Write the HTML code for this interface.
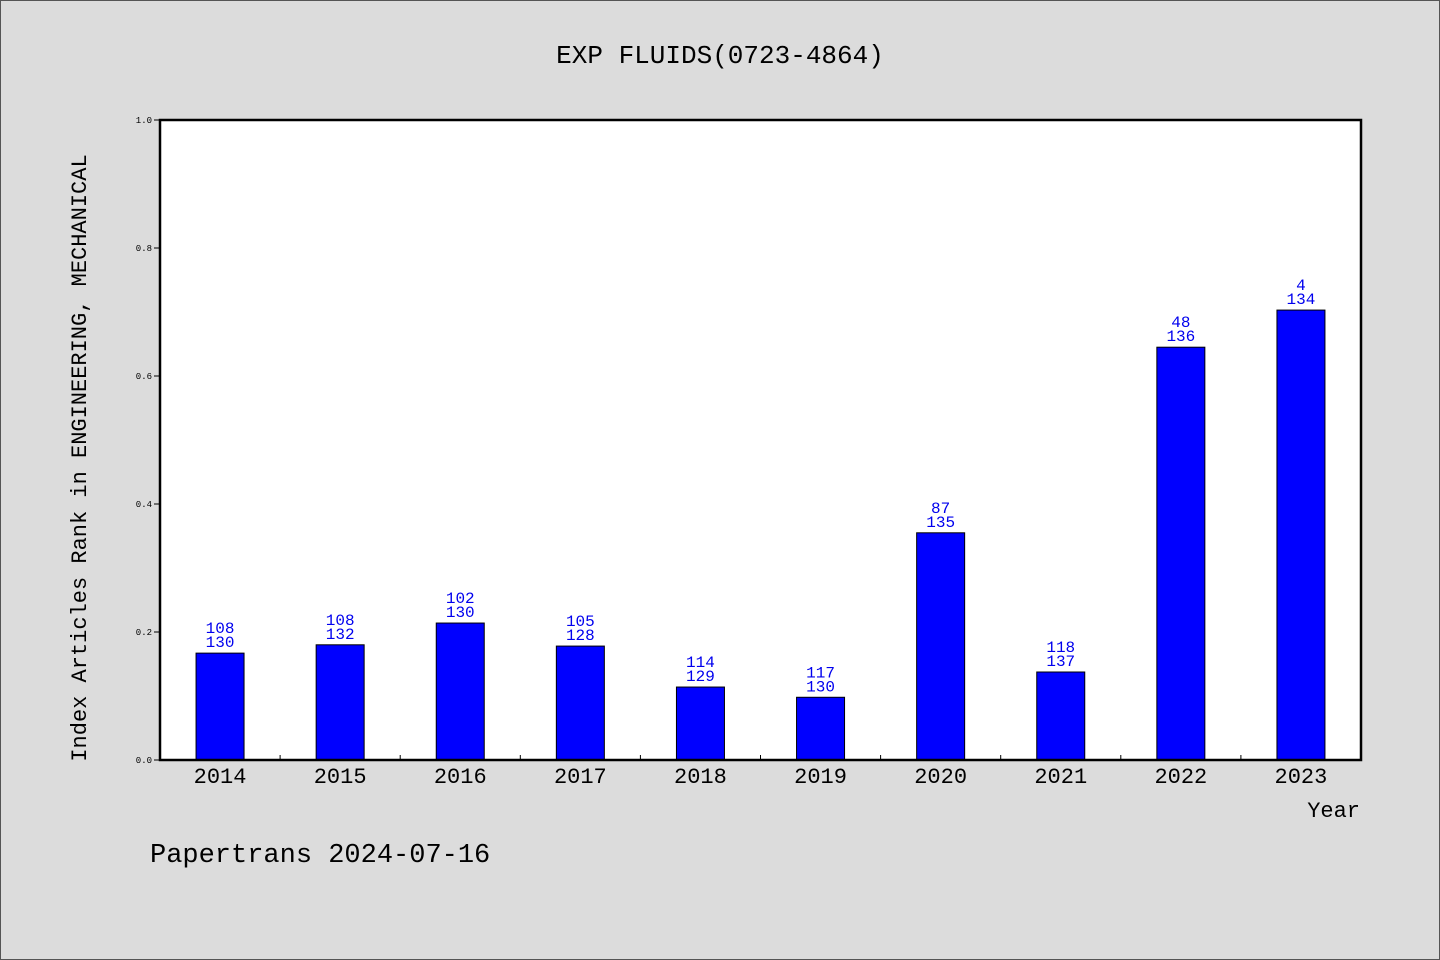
<!DOCTYPE html>
<html><head><meta charset="utf-8"><style>
body{margin:0;background:#dcdcdc}
svg{display:block;font-family:"Liberation Mono","Noto Sans CJK SC",monospace}
</style></head><body>
<svg id="chart" width="1440" height="960">
<rect x="0.5" y="0.5" width="1439" height="959" fill="#dcdcdc" stroke="#555"/>
<text x="720" y="63" text-anchor="middle" font-size="26">EXP FLUIDS(0723-4864)</text>
<rect x="160" y="120" width="1201" height="640" fill="#fff"/>
<g id="bars"></g>
<rect x="160" y="120" width="1201" height="640" fill="none" stroke="#000" stroke-width="2.5"/>
<text transform="translate(86,458) rotate(-90)" text-anchor="middle" font-size="22">Index Articles Rank in ENGINEERING, MECHANICAL</text>
<text x="1360" y="817" text-anchor="end" font-size="22">Year</text>
<text x="150" y="862" font-size="27">Papertrans 2024-07-16</text>
</svg>
<script>
const years=["2014","2015","2016","2017","2018","2019","2020","2021","2022","2023"];
const values=[0.167,0.180,0.214,0.178,0.114,0.098,0.355,0.1375,0.645,0.703];
const ranks=["108","108","102","105","114","117","87","118","48","4"];
const totals=["130","132","130","128","129","130","135","137","136","134"];
const yTicks=[0,0.2,0.4,0.6,0.8,1.0];
const ns="http://www.w3.org/2000/svg";
const L=160,R=1361,T=120,B=760;
const step=(R-L)/years.length;
const xc=i=>L+step*(i+0.5);
const y=v=>B-(B-T)*v;
const g=document.getElementById('bars');
function mk(t,a){const e=document.createElementNS(ns,t);for(const k in a)e.setAttribute(k,a[k]);return e;}
yTicks.forEach(v=>{
 const l=mk('line',{x1:L-6,x2:L,y1:y(v),y2:y(v),stroke:'#000'});
 
 
 g.appendChild(l);
 const t=mk('text',{x:L-8,y:y(v)+3,'text-anchor':'end','font-size':9});
 
 
 t.textContent=v.toFixed(1);g.appendChild(t);
});
years.forEach((yr,i)=>{
 if(i>0){const tk=mk('line',{x1:L+step*i,x2:L+step*i,y1:B,y2:B-5,stroke:'#000'});
 
 
 g.appendChild(tk);}
 const r=mk('rect',{x:xc(i)-24,y:y(values[i]),width:48,height:B-y(values[i]),fill:'#0000ff',stroke:'#000'});
 
 
 g.appendChild(r);
 const a=mk('text',{x:xc(i),y:y(values[i])-20,'text-anchor':'middle','font-size':16,fill:'#0000ee'});
 
 
 a.textContent=ranks[i];g.appendChild(a);
 const b=mk('text',{x:xc(i),y:y(values[i])-6,'text-anchor':'middle','font-size':16,fill:'#0000ee'});
 
 
 b.textContent=totals[i];g.appendChild(b);
 const xl=mk('text',{x:xc(i),y:B+23,'text-anchor':'middle','font-size':22});
 
 
 xl.textContent=yr;document.getElementById('chart').appendChild(xl);
});
</script>
</body></html>
